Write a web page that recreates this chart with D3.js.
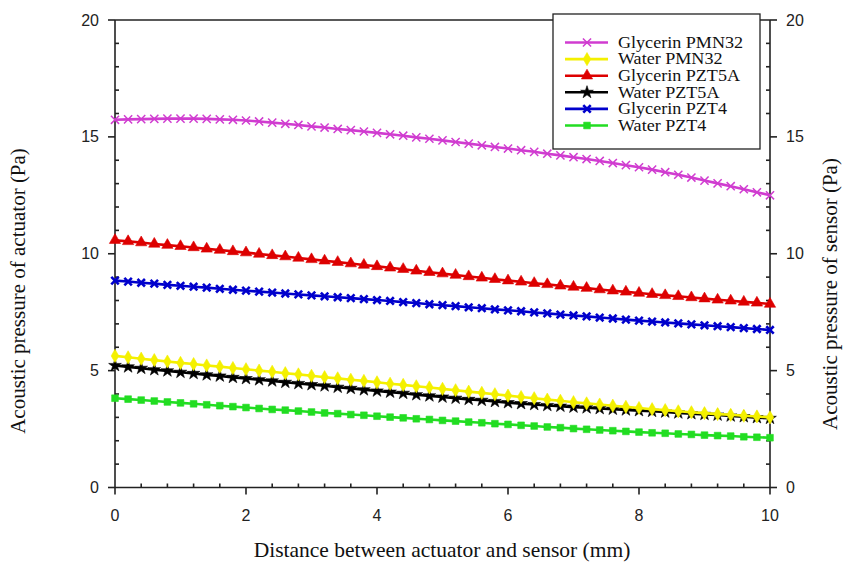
<!DOCTYPE html>
<html><head><meta charset="utf-8">
<script src="https://cdn.jsdelivr.net/npm/d3@7"></script>
<style>body{margin:0;background:#fff}svg{display:block}</style>
</head><body>
<svg id="c" width="849" height="567"></svg>
<script>
const xValues = d3.range(0, 51).map(i => +(i * 0.2).toFixed(1));
const seriesNames = ["Glycerin PMN32","Water PMN32","Glycerin PZT5A","Water PZT5A","Glycerin PZT4","Water PZT4"];
const glycerinPMN32 = [15.73,15.75,15.76,15.77,15.78,15.78,15.78,15.77,15.75,15.73,15.70,
 15.66,15.61,15.56,15.51,15.45,15.40,15.34,15.29,15.23,15.17,
 15.11,15.05,14.98,14.92,14.85,14.78,14.71,14.64,14.57,14.50,
 14.43,14.36,14.28,14.21,14.13,14.05,13.97,13.88,13.79,13.70,
 13.60,13.49,13.38,13.26,13.13,13.01,12.89,12.76,12.63,12.50];
const waterPMN32 = [5.63,5.57,5.51,5.45,5.39,5.33,5.28,5.22,5.17,5.11,5.06,
 5.00,4.95,4.89,4.84,4.78,4.72,4.67,4.61,4.56,4.50,
 4.44,4.39,4.33,4.28,4.22,4.16,4.10,4.05,3.99,3.93,
 3.87,3.82,3.76,3.71,3.65,3.60,3.55,3.50,3.45,3.40,
 3.35,3.31,3.26,3.22,3.18,3.14,3.11,3.07,3.04,3.00];
const glycerinPZT5A = [10.58,10.53,10.48,10.42,10.37,10.32,10.27,10.21,10.16,10.10,10.05,
 9.99,9.93,9.88,9.82,9.76,9.70,9.64,9.58,9.52,9.46,
 9.40,9.34,9.27,9.21,9.15,9.09,9.03,8.97,8.91,8.85,
 8.80,8.74,8.69,8.63,8.58,8.53,8.47,8.42,8.37,8.32,
 8.27,8.22,8.18,8.13,8.08,8.03,7.99,7.94,7.90,7.85];
const waterPZT5A = [5.22,5.16,5.10,5.04,4.99,4.93,4.88,4.82,4.77,4.71,4.66,
 4.61,4.56,4.50,4.45,4.40,4.35,4.29,4.24,4.18,4.13,
 4.08,4.03,3.97,3.92,3.87,3.82,3.77,3.73,3.68,3.63,
 3.59,3.55,3.51,3.48,3.44,3.41,3.38,3.35,3.32,3.29,
 3.26,3.23,3.19,3.16,3.13,3.10,3.06,3.03,2.99,2.96];
const glycerinPZT4 = [8.85,8.81,8.76,8.72,8.67,8.63,8.59,8.55,8.50,8.46,8.42,
 8.38,8.34,8.30,8.26,8.22,8.18,8.14,8.10,8.06,8.02,
 7.98,7.93,7.89,7.84,7.80,7.76,7.71,7.67,7.62,7.58,
 7.54,7.49,7.45,7.40,7.36,7.32,7.27,7.23,7.18,7.14,
 7.10,7.06,7.02,6.98,6.94,6.90,6.86,6.82,6.78,6.74];
const waterPZT4 = [3.82,3.78,3.74,3.70,3.66,3.62,3.58,3.54,3.50,3.46,3.42,
 3.38,3.34,3.31,3.27,3.23,3.19,3.16,3.12,3.09,3.05,
 3.01,2.98,2.94,2.91,2.87,2.84,2.80,2.77,2.73,2.70,
 2.66,2.63,2.59,2.56,2.52,2.49,2.46,2.43,2.40,2.37,
 2.34,2.32,2.29,2.27,2.24,2.22,2.20,2.17,2.15,2.13];
const xTicks = [0,2,4,6,8,10];
const yTicks = [0,5,10,15,20];
const xLabel = "Distance between actuator and sensor (mm)";
const yLeftLabel = "Acoustic pressure of actuator (Pa)";
const yRightLabel = "Acoustic pressure of sensor (Pa)";

const seriesValues = [glycerinPMN32, waterPMN32, glycerinPZT5A, waterPZT5A, glycerinPZT4, waterPZT4];
const colors = ["#d03cd0", "#f4f000", "#dd0000", "#000000", "#0000cc", "#22dd22"];
const symbols = [d3.symbolTimes, d3.symbolDiamond, d3.symbolTriangle, d3.symbolStar, d3.symbolTimes, d3.symbolSquare];
const symSizes = [45, 50, 55, 50, 38, 45];
const strokeOnly = [true, false, false, false, true, false];
const strokeW = [1.5, 0.6, 0.6, 0.6, 2.6, 0.6];
const drawOrder = [0, 2, 4, 5, 3, 1];

const svg = d3.select("#c");
const L = 115, R = 770, T = 20, B = 487.5;
const x = d3.scaleLinear().domain([0, 10]).range([L, R]);
const y = d3.scaleLinear().domain([0, 20]).range([B, T]);

const ax = svg.append("g").attr("stroke", "#222").attr("stroke-width", 1.6).attr("fill", "none");
ax.append("line").attr("x1", L).attr("x2", R).attr("y1", B).attr("y2", B);
ax.append("line").attr("x1", L).attr("x2", R).attr("y1", T).attr("y2", T);
ax.append("line").attr("x1", L).attr("x2", L).attr("y1", T).attr("y2", B);
ax.append("line").attr("x1", R).attr("x2", R).attr("y1", T).attr("y2", B);

d3.range(0, 10.01, 0.4).forEach(v => {
  const isMajor = Math.abs(v / 2 - Math.round(v / 2)) < 1e-6;
  ax.append("line").attr("x1", x(v)).attr("x2", x(v))
    .attr("y1", B).attr("y2", isMajor ? B + 7 : B - 4);
});
d3.range(0, 20.01, 1).forEach(v => {
  const isMajor = v % 5 === 0;
  ax.append("line").attr("x1", L).attr("x2", isMajor ? L - 7 : L + 4).attr("y1", y(v)).attr("y2", y(v));
  ax.append("line").attr("x1", R).attr("x2", isMajor ? R + 7 : R - 4).attr("y1", y(v)).attr("y2", y(v));
});

const tickFont = "Liberation Sans, Arial, sans-serif";
svg.append("g").selectAll("text").data(xTicks).join("text")
  .attr("x", d => x(d)).attr("y", 521).attr("text-anchor", "middle")
  .attr("font-family", tickFont).attr("font-size", 16).attr("fill", "#222").text(d => d);
svg.append("g").selectAll("text").data(yTicks).join("text")
  .attr("x", 99).attr("y", d => y(d) + 5.5).attr("text-anchor", "end")
  .attr("font-family", tickFont).attr("font-size", 16).attr("fill", "#222").text(d => d);
svg.append("g").selectAll("text").data(yTicks).join("text")
  .attr("x", 786).attr("y", d => y(d) + 5.5).attr("text-anchor", "start")
  .attr("font-family", tickFont).attr("font-size", 16).attr("fill", "#222").text(d => d);

const serif = "Liberation Serif, Times New Roman, serif";
svg.append("text").attr("x", 442).attr("y", 557).attr("text-anchor", "middle")
  .attr("font-family", serif).attr("font-size", 21.5).attr("fill", "#111").text(xLabel);
svg.append("text").attr("transform", "translate(25,291) rotate(-90)").attr("text-anchor", "middle")
  .attr("font-family", serif).attr("font-size", 21).attr("fill", "#111").text(yLeftLabel);
svg.append("text").attr("transform", "translate(837,294) rotate(-90)").attr("text-anchor", "middle")
  .attr("font-family", serif).attr("font-size", 21).attr("fill", "#111").text(yRightLabel);

const line = d3.line().x((d, i) => x(xValues[i])).y(d => y(d));
drawOrder.forEach(si => {
  const g = svg.append("g");
  g.append("path").datum(seriesValues[si]).attr("d", line)
    .attr("fill", "none").attr("stroke", colors[si]).attr("stroke-width", 2.6);
  const sym = d3.symbol().type(symbols[si]).size(symSizes[si]);
  g.selectAll("path.m").data(seriesValues[si]).join("path").attr("class", "m")
    .attr("transform", (d, i) => `translate(${x(xValues[i])},${y(d)})`)
    .attr("d", sym)
    .attr("fill", strokeOnly[si] ? "none" : colors[si])
    .attr("stroke", colors[si])
    .attr("stroke-width", strokeW[si]);
});

const lg = svg.append("g");
lg.append("rect").attr("x", 553).attr("y", 14).attr("width", 207).attr("height", 135)
  .attr("fill", "#fff").attr("stroke", "#222").attr("stroke-width", 1.3);
seriesNames.forEach((name, i) => {
  const yy = 42.5 + i * 16.6;
  lg.append("line").attr("x1", 565).attr("x2", 608).attr("y1", yy).attr("y2", yy)
    .attr("stroke", colors[i]).attr("stroke-width", 2.6);
  lg.append("path").attr("transform", `translate(587,${yy})`)
    .attr("d", d3.symbol().type(symbols[i]).size(symSizes[i]))
    .attr("fill", strokeOnly[i] ? "none" : colors[i]).attr("stroke", colors[i]).attr("stroke-width", strokeW[i]);
  const t = lg.append("text").attr("x", 618).attr("y", yy + 5.2)
    .attr("font-family", serif).attr("font-size", 16).attr("fill", "#111").text(name);
  const w = t.node().getComputedTextLength();
  t.attr("textLength", w * 1.13).attr("lengthAdjust", "spacingAndGlyphs");
});
</script>
</body></html>
